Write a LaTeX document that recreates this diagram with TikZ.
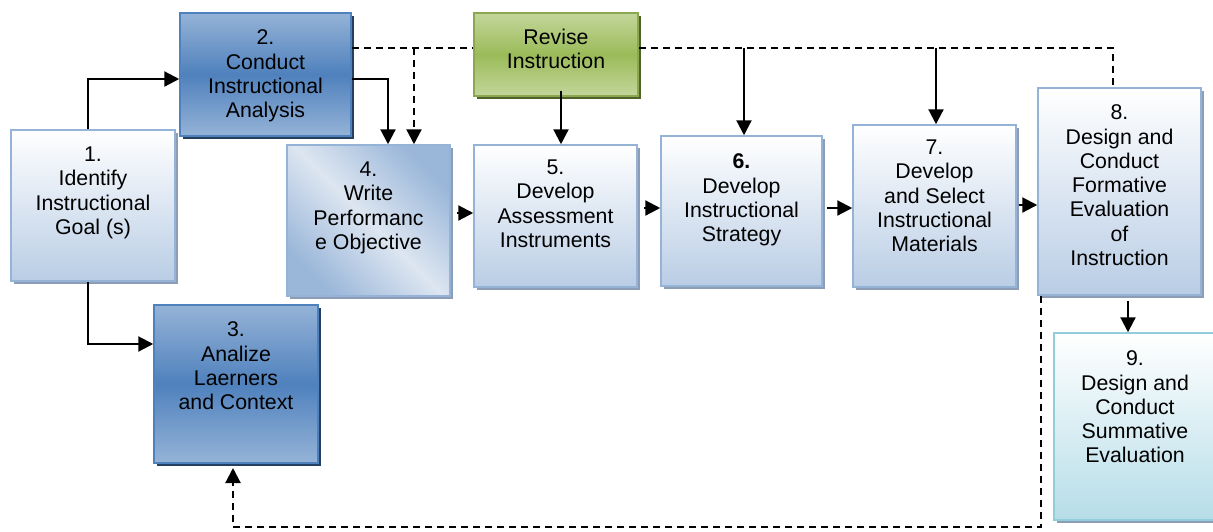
\documentclass[tikz,border=0pt]{standalone}
\usepackage{fontspec}
\setmainfont{Liberation Sans}
\usetikzlibrary{arrows.meta,shadows}
\definecolor{lb}{HTML}{B9CDE5}
\definecolor{lbd}{HTML}{95B3D7}
\definecolor{lsh}{HTML}{8C9DB5}
\definecolor{db}{HTML}{4F81BD}
\definecolor{dbl}{HTML}{95B3D7}
\definecolor{dsh}{HTML}{243F60}
\definecolor{gr}{HTML}{9BBB59}
\definecolor{grl}{HTML}{C3D69B}
\definecolor{grsh}{HTML}{4F6228}
\definecolor{cy}{HTML}{B6DDE8}
\definecolor{cyd}{HTML}{92CDDC}
\definecolor{b4d}{HTML}{9AB6D9}
\definecolor{b4l}{HTML}{DDE6F1}
\tikzset{
  box/.style={rectangle, inner sep=0pt, line width=1.5pt},
  lightbox/.style={box, draw=lbd, top color=white, bottom color=lb,
    general shadow={fill=lsh, shadow xshift=3pt, shadow yshift=-3pt}},
  darkbox/.style={box, draw=db, top color=dbl, bottom color=dbl, middle color=db,
    general shadow={fill=dsh, shadow xshift=3pt, shadow yshift=-3pt}},
  greenbox/.style={box, draw=gr!90!black, top color=grl, bottom color=grl, middle color=gr,
    general shadow={fill=grsh, shadow xshift=3pt, shadow yshift=-3pt}},
  cyanbox/.style={box, draw=cyd, top color=white, bottom color=cy,
    general shadow={fill=lsh, shadow xshift=3pt, shadow yshift=-3pt}},
  diagbox/.style={box, draw=lbd, top color=b4d, bottom color=b4d, middle color=b4l, shading angle=-45,
    general shadow={fill=lsh, shadow xshift=3pt, shadow yshift=-3pt}},
  txt/.style={anchor=north, inner sep=0pt, align=center,
    font=\fontsize{21.3pt}{24.3pt}\selectfont},
  arr/.style={line width=2.2pt, -{Triangle[length=15pt,width=15pt]}},
  dsh/.style={line width=2pt, dash pattern=on 7pt off 5pt},
}
\begin{document}
\begin{tikzpicture}[x=1pt,y=-1pt]
\useasboundingbox (0,0) rectangle (1213,531);
\clip (0,0) rectangle (1213,531);
% boxes
\node[lightbox, minimum width=164pt, minimum height=151pt] (b1) at (93,205.5) {};
\node[darkbox,  minimum width=171pt, minimum height=123pt] (b2) at (265.5,74.5) {};
\node[darkbox,  minimum width=164pt, minimum height=158pt] (b3) at (236,384) {};
\node[diagbox,  minimum width=163pt, minimum height=151pt] (b4) at (368.5,220.5) {};
\node[greenbox, minimum width=164pt, minimum height=83pt]  (rv) at (556,54.5) {};
\node[lightbox, minimum width=163pt, minimum height=142pt] (b5) at (555.5,216) {};
\node[lightbox, minimum width=161pt, minimum height=150pt] (b6) at (741.5,211) {};
\node[lightbox, minimum width=163pt, minimum height=162pt] (b7) at (934.5,206) {};
\node[lightbox, minimum width=163pt, minimum height=207pt] (b8) at (1119.5,191.5) {};
\node[cyanbox,  minimum width=162pt, minimum height=187pt] (b9) at (1135,426.5) {};
% texts
\node[txt] (t1) at ([yshift=-17.4pt]b1.north) {1.\\Identify\\Instructional\\Goal (s)};
\node[txt] (t2) at ([yshift=-17.4pt]b2.north) {2.\\Conduct\\Instructional\\Analysis};
\node[txt] (t3) at ([yshift=-17.4pt]b3.north) {3.\\Analize\\Laerners\\and Context};
\node[txt] (t4) at ([yshift=-17.4pt]b4.north) {4.\\Write\\Performanc\\e Objective};
\node[txt] (tr) at ([yshift=-16.4pt]rv.north) {Revise\\Instruction};
\node[txt] (t5) at ([yshift=-15.4pt]b5.north) {5.\\Develop\\Assessment\\Instruments};
\node[txt] (t6) at ([yshift=-18.4pt]b6.north) {\textbf{6.}\\Develop\\Instructional\\Strategy};
\node[txt] (t7) at ([yshift=-15.4pt]b7.north) {7.\\Develop\\and Select\\Instructional\\Materials};
\node[txt] (t8) at ([yshift=-17.4pt]b8.north) {8.\\Design and\\Conduct\\Formative\\Evaluation\\of\\Instruction};
\node[txt] (t9) at ([yshift=-18.4pt]b9.north) {9.\\Design and\\Conduct\\Summative\\Evaluation};
% helper coordinates
\coordinate (yA) at (0,48);
\coordinate (y12) at (0,79);
\coordinate (y13) at (0,344);
\coordinate (yB) at (0,527);
\coordinate (y3b) at (0,468);
\coordinate (y45) at (0,213);
\coordinate (y56) at (0,208);
\coordinate (y67) at (0,208);
\coordinate (y78) at (0,205);
\coordinate (x1) at (88,0);
\coordinate (x24) at (388,0);
\coordinate (x4d) at (414,0);
\coordinate (xr) at (561,0);
\coordinate (x6) at (744,0);
\coordinate (x7) at (936,0);
\coordinate (x8r) at (1113,0);
\coordinate (x89) at (1128,0);
\coordinate (x8l) at (1041,0);
\coordinate (x3) at (233,0);
% connectors
\draw[arr] (x1 |- b1.north) -- (x1 |- y12) -- (b2.west |- y12);
\draw[arr] (x1 |- b1.south) -- (x1 |- y13) -- (b3.west |- y13);
\draw[arr] (b2.east |- y12) -- (x24 |- y12) -- (x24 |- b4.north);
\draw[dsh] (b2.east |- yA) -- (rv.west |- yA);
\draw[dsh, arr] (x4d |- yA) -- (x4d |- b4.north);
\draw[dsh] (rv.east |- yA) -- (x8r |- yA) -- (x8r |- b8.north);
\draw[arr] (x6 |- yA) -- (x6 |- b6.north);
\draw[arr] (x7 |- yA) -- (x7 |- b7.north);
\draw[arr] (xr |- rv.south) ++(0,-6) -- (xr |- b5.north);
\draw[arr] (b4.east |- y45) ++(6,0) -- (b5.west |- y45);
\draw[arr] (b5.east |- y56) ++(6,0) -- (b6.west |- y56);
\draw[arr] (b6.east |- y67) ++(4,0) -- (b7.west |- y67);
\draw[arr] (b7.east |- y78) ++(2,0) -- (b8.west |- y78);
\draw[arr] (x89 |- b8.south) ++(0,5) -- (x89 |- b9.north);
\draw[dsh, arr] (x8l |- b8.south) -- (x8l |- yB) -- (x3 |- yB) -- (x3 |- y3b);
\end{tikzpicture}
\end{document}
